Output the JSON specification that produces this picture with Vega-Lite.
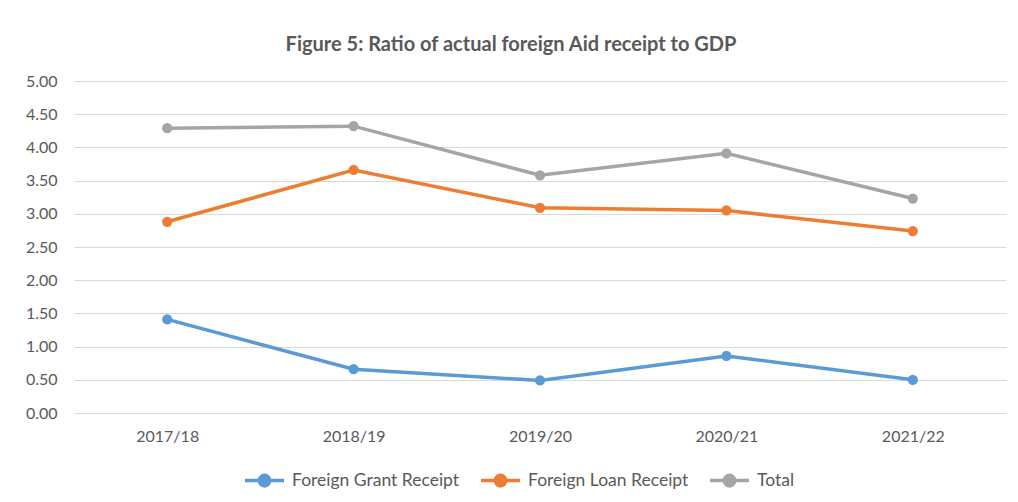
{
  "$schema": "https://vega.github.io/schema/vega-lite/v6.json",
  "autosize": "none",
  "width": 932,
  "height": 332,
  "padding": {"left": 74, "top": 81, "right": 12, "bottom": 89},
  "background": "white",
  "title": {
    "text": "Figure 5: Ratio of actual foreign Aid receipt to GDP",
    "font": "Lato",
    "fontSize": 20,
    "fontWeight": "bold",
    "color": "#595959",
    "anchor": "middle",
    "dx": -29,
    "offset": 18
  },
  "data": {
    "values": [
      {"year": "2017/18", "series": "Foreign Grant Receipt", "value": 1.41},
      {"year": "2018/19", "series": "Foreign Grant Receipt", "value": 0.66},
      {"year": "2019/20", "series": "Foreign Grant Receipt", "value": 0.49},
      {"year": "2020/21", "series": "Foreign Grant Receipt", "value": 0.86},
      {"year": "2021/22", "series": "Foreign Grant Receipt", "value": 0.50},
      {"year": "2017/18", "series": "Foreign Loan Receipt", "value": 2.88},
      {"year": "2018/19", "series": "Foreign Loan Receipt", "value": 3.66},
      {"year": "2019/20", "series": "Foreign Loan Receipt", "value": 3.09},
      {"year": "2020/21", "series": "Foreign Loan Receipt", "value": 3.05},
      {"year": "2021/22", "series": "Foreign Loan Receipt", "value": 2.74},
      {"year": "2017/18", "series": "Total", "value": 4.29},
      {"year": "2018/19", "series": "Total", "value": 4.32},
      {"year": "2019/20", "series": "Total", "value": 3.58},
      {"year": "2020/21", "series": "Total", "value": 3.91},
      {"year": "2021/22", "series": "Total", "value": 3.23}
    ]
  },
  "mark": {"type": "line", "strokeWidth": 3.5, "point": {"filled": true, "size": 105, "opacity": 1}},
  "encoding": {
    "x": {
      "field": "year",
      "type": "ordinal",
      "scale": {"type": "point", "padding": 0.5},
      "axis": {
        "title": null,
        "labelAngle": 0,
        "labelFont": "Lato",
        "labelFontSize": 16,
        "labelColor": "#595959",
        "labelPadding": 15,
        "ticks": false,
        "domain": false,
        "grid": false
      }
    },
    "y": {
      "field": "value",
      "type": "quantitative",
      "scale": {"domain": [0, 5]},
      "axis": {
        "title": null,
        "values": [0, 0.5, 1, 1.5, 2, 2.5, 3, 3.5, 4, 4.5, 5],
        "format": ".2f",
        "labelFont": "Lato",
        "labelFontSize": 16,
        "labelColor": "#595959",
        "labelPadding": 17,
        "ticks": false,
        "domain": false,
        "grid": true,
        "gridColor": "#d9d9d9",
        "gridWidth": 1
      }
    },
    "color": {
      "field": "series",
      "type": "nominal",
      "scale": {
        "domain": ["Foreign Grant Receipt", "Foreign Loan Receipt", "Total"],
        "range": ["#5B9BD5", "#ED7D31", "#A5A5A5"]
      },
      "legend": {
        "title": null,
        "orient": "none",
        "direction": "horizontal",
        "legendX": 169,
        "legendY": 378,
        "labelFont": "Lato",
        "labelFontSize": 17.5,
        "labelColor": "#595959",
        "labelOffset": 6,
        "columnPadding": 14,
        "labelLimit": 300,
        "symbolType": "M-1,0L1,0M0.27,0A0.27,0.27,0,1,1,-0.27,0A0.27,0.27,0,1,1,0.27,0Z",
        "symbolSize": 1521,
        "symbolStrokeWidth": 3.5,
        "encode": {
          "symbols": {
            "update": {
              "fill": {"scale": "color", "field": "value"},
              "stroke": {"scale": "color", "field": "value"},
              "opacity": {"value": 1}
            }
          }
        }
      }
    }
  },
  "config": {
    "view": {"stroke": null},
    "font": "Lato"
  }
}
